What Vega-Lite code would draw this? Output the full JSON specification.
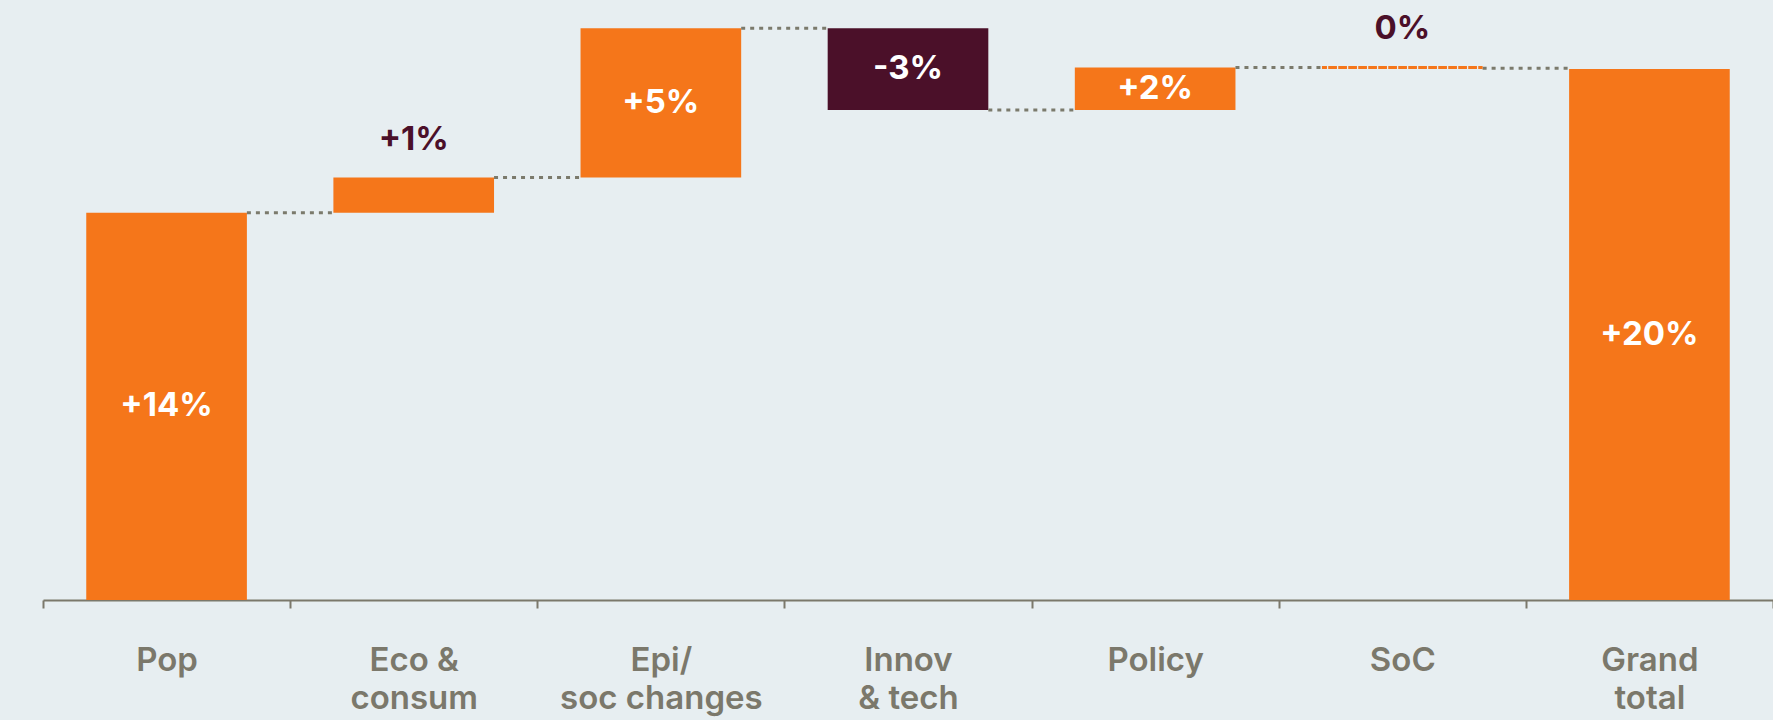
{
  "$schema": "https://vega.github.io/schema/vega-lite/v6.json",
  "width": 1730,
  "height": 600,
  "autosize": {"type": "none"},
  "padding": {"left": 43, "top": 0, "right": 0, "bottom": 120},
  "background": "#e7eef1",
  "config": {
    "view": {"stroke": null},
    "font": "Inter",
    "axis": {
      "domainColor": "#7b786b",
      "domainWidth": 2,
      "tickColor": "#7b786b",
      "tickWidth": 2,
      "tickSize": 8,
      "tickBand": "extent",
      "labelAngle": 0,
      "labelFont": "Inter",
      "labelFontSize": 33,
      "labelFontWeight": 600,
      "labelColor": "#7b786b",
      "labelLineHeight": 38,
      "labelPadding": 36,
      "labelBaseline": "top",
      "labelLimit": 0,
      "labelOverlap": false,
      "title": null,
      "grid": false
    }
  },
  "datasets": {
    "steps": [
      {"cat": "Pop", "start": 0, "end": 14.59, "label": "+14%", "kind": "increase", "placement": "inside"},
      {"cat": "Eco &|consum", "start": 14.59, "end": 15.91, "label": "+1%", "kind": "increase", "placement": "above"},
      {"cat": "Epi/|soc changes", "start": 15.91, "end": 21.54, "label": "+5%", "kind": "increase", "placement": "inside"},
      {"cat": "Innov|& tech", "start": 21.54, "end": 18.46, "label": "-3%", "kind": "decrease", "placement": "inside"},
      {"cat": "Policy", "start": 18.46, "end": 20.06, "label": "+2%", "kind": "increase", "placement": "inside"},
      {"cat": "SoC", "start": 20.06, "end": 20.06, "label": "0%", "kind": "flat", "placement": "above"},
      {"cat": "Grand|total", "start": 0, "end": 20.0, "label": "+20%", "kind": "total", "placement": "inside"}
    ],
    "links": [
      {"from": "Pop", "to": "Eco &|consum", "level": 14.59},
      {"from": "Eco &|consum", "to": "Epi/|soc changes", "level": 15.91},
      {"from": "Epi/|soc changes", "to": "Innov|& tech", "level": 21.54},
      {"from": "Innov|& tech", "to": "Policy", "level": 18.46},
      {"from": "Policy", "to": "SoC", "level": 20.06},
      {"from": "SoC", "to": "Grand|total", "level": 20.03}
    ]
  },
  "layer": [
    {
      "data": {"name": "steps"},
      "transform": [{"filter": "datum.kind != 'flat'"}],
      "mark": {"type": "bar", "width": {"band": 0.65}},
      "encoding": {
        "x": {
          "field": "cat",
          "type": "nominal",
          "sort": null,
          "scale": {
            "type": "band",
            "domain": ["Pop", "Eco &|consum", "Epi/|soc changes", "Innov|& tech", "Policy", "SoC", "Grand|total"],
            "paddingInner": 0,
            "paddingOuter": 0
          },
          "axis": {"labelExpr": "split(datum.label, '|')", "title": null}
        },
        "y": {
          "field": "start",
          "type": "quantitative",
          "scale": {"domain": [0, 22.6], "nice": false, "zero": false},
          "axis": null
        },
        "y2": {"field": "end"},
        "color": {
          "field": "kind",
          "type": "nominal",
          "scale": {"domain": ["increase", "decrease", "total"], "range": ["#f5761a", "#4b1029", "#f5761a"]},
          "legend": null
        }
      }
    },
    {
      "data": {"name": "links"},
      "mark": {"type": "rule", "color": "#7b7a6c", "strokeWidth": 3, "strokeDash": [4, 5]},
      "encoding": {
        "x": {"field": "from", "type": "nominal", "bandPosition": 0.825, "title": null},
        "x2": {"field": "to", "bandPosition": 0.175},
        "y": {"field": "level", "type": "quantitative", "axis": null}
      }
    },
    {
      "data": {"name": "steps"},
      "transform": [{"filter": "datum.kind == 'flat'"}],
      "mark": {"type": "bar", "width": {"band": 0.65}, "fill": null, "fillOpacity": 0, "stroke": "#f5761a", "strokeWidth": 3, "strokeDash": [5, 5]},
      "encoding": {
        "x": {"field": "cat", "type": "nominal", "title": null},
        "y": {"field": "start", "type": "quantitative", "axis": null},
        "y2": {"field": "end"}
      }
    },
    {
      "data": {"name": "steps"},
      "transform": [
        {"filter": "datum.placement == 'inside'"},
        {"fold": ["start", "end"], "as": ["edge", "value"]}
      ],
      "mark": {"type": "text", "align": "center", "baseline": "middle", "fontSize": 33, "fontWeight": 700, "color": "#ffffff", "font": "Inter"},
      "encoding": {
        "x": {"field": "cat", "type": "nominal", "title": null},
        "y": {"aggregate": "mean", "field": "value", "type": "quantitative", "axis": null},
        "text": {"field": "label", "type": "nominal"}
      }
    },
    {
      "data": {"name": "steps"},
      "transform": [
        {"filter": "datum.placement == 'above'"},
        {"fold": ["start", "end"], "as": ["edge", "value"]}
      ],
      "mark": {"type": "text", "align": "center", "baseline": "middle", "dy": -38, "fontSize": 33, "fontWeight": 700, "color": "#4b1029", "font": "Inter"},
      "encoding": {
        "x": {"field": "cat", "type": "nominal", "title": null},
        "y": {"aggregate": "max", "field": "value", "type": "quantitative", "axis": null},
        "text": {"field": "label", "type": "nominal"}
      }
    }
  ]
}
